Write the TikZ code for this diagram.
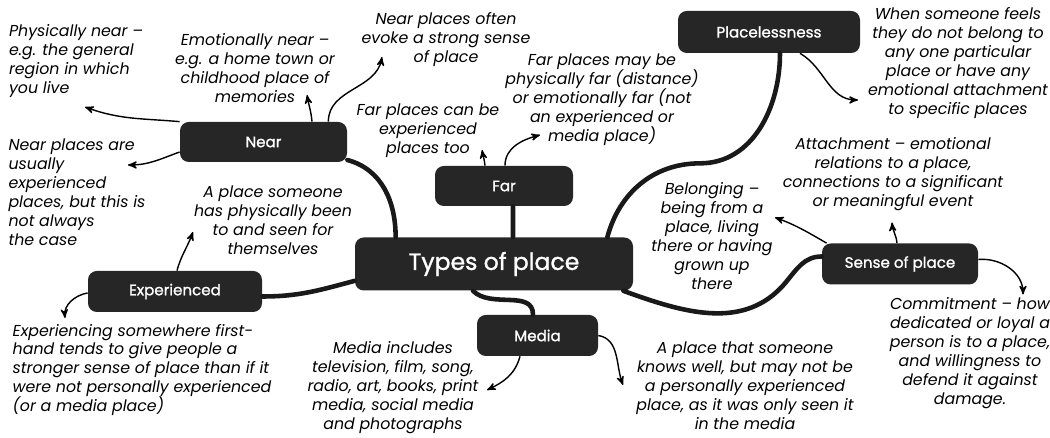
\documentclass[tikz,border=0pt]{standalone}
\usepackage{fontspec}
\setmainfont{Poppins}
\newfontfamily\boxfont{Poppins}[AutoFakeBold=1.2]
\usepackage{tikz}
\usetikzlibrary{positioning}
\usetikzlibrary{arrows}
\tikzset{node distance=2cm, % only used as a fallback, all nodes get their own distance
topic/.style={ % the dark boxes
fill=black!85,
text=white,
rounded corners=5pt,
inner sep=0pt,
font=\boxfont\bfseries\fontsize{8.6}{10}\selectfont},
note/.style={ % the italic comments round the boxes
align=center,
inner sep=1pt,
font=\fontsize{9}{10.8}\selectfont\itshape},
branch/.style={ % thick lines between the boxes
line width=2.6pt,
black!90,
line cap=round},
every edge/.style={ % the small pointers to the comments
draw,
->,>=stealth',
line width=0.8pt}}

\begin{document}
\begin{tikzpicture}
				\useasboundingbox (0,0) rectangle (21,8.76);

				\node[topic, minimum width=5.56cm, minimum height=1.06cm, font=\boxfont\bfseries\fontsize{13.4}{16}\selectfont] (main) at (9.88,3.48) {Types of place};
				\node[topic, minimum width=3.34cm, minimum height=0.8cm, on grid, above left=2.44cm and 4.61cm of main] (near) {Near};
				\node[topic, minimum width=2.76cm, minimum height=0.8cm, on grid, above right=1.56cm and 0.2cm of main] (far) {Far};
				\node[topic, minimum width=3.64cm, minimum height=0.84cm, on grid, above right=4.64cm and 5.5cm of main] (placeless) {Placelessness};
				\node[topic, minimum width=3.48cm, minimum height=0.82cm, on grid, below left=0.55cm and 6.38cm of main] (exp) {Experienced};
				\node[topic, minimum width=2.42cm, minimum height=0.82cm, on grid, below right=1.43cm and 0.87cm of main] (media) {Media};
				\node[topic, minimum width=3.12cm, minimum height=0.82cm, on grid, right=8.12cm of main] (sense) {Sense of place};

				\node[note, align=left, on grid, above left=1.62cm and 3.75cm of near] (physnear) {Physically near --\\e.g. the general\\region in which\\you live};
				\node[note, on grid, above left=1.48cm and 0.17cm of near] (emonear) {Emotionally near --\\e.g. a home town or\\childhood place of\\memories};
				\node[note, on grid, above right=2.04cm and 3.65cm of near] (nearoften) {Near places often\\evoke a strong sense\\of place};
				\node[note, align=left, on grid, below left=1.0cm and 3.73cm of near] (nearusual) {Near places are\\usually\\experienced\\places, but this is\\not always\\the case};
				\node[note, on grid, above left=1.10cm and 1.52cm of far] (farcan) {Far places can be\\experienced\\places too};
				\node[note, on grid, above right=1.72cm and 1.96cm of far] (farmay) {Far places may be\\physically far (distance)\\or emotionally far (not\\an experienced or\\media place)};
				\node[note, on grid, below right=0.62cm and 3.78cm of placeless] (placenote) {When someone feels\\they do not belong to\\any one particular\\place or have any\\emotional attachment\\to specific places};
				\node[note, on grid, above left=1.79cm and 0.14cm of sense] (attach) {Attachment -- emotional\\relations to a place,\\connections to a significant\\or meaningful event};
				\node[note, on grid, above left=0.55cm and 3.76cm of sense] (belong) {Belonging --\\being from a\\place, living\\there or having\\grown up\\there};
				\node[note, on grid, below right=1.79cm and 1.40cm of sense] (commit) {Commitment -- how\\dedicated or loyal a\\person is to a place,\\and willingness to\\defend it against\\damage.};
				\node[note, on grid, above right=1.43cm and 1.96cm of exp] (aplace) {A place someone\\has physically been\\to and seen for\\themselves};
				\node[note, align=left, on grid, below left=1.57cm and 0.66cm of exp] (experiencing) {Experiencing somewhere first-\\hand tends to give people a\\stronger sense of place than if it\\were not personally experienced\\(or a media place)};
				\node[note, on grid, below left=1.05cm and 2.89cm of media] (mediainc) {Media includes\\television, film, song,\\radio, art, books, print\\media, social media\\and photographs};
				\node[note, on grid, below right=1.01cm and 4.15cm of media] (knows) {A place that someone\\knows well, but may not be\\a personally experienced\\place, as it was only seen it\\in the media};

				% branches
				\draw[branch] ([yshift=-0.36cm]near.east) to[out=-15,in=90] ([xshift=0.82cm]main.north west);
				\draw[branch] ([xshift=0.18cm]far.south) -- ([xshift=0.38cm]main.north);
				\draw[branch] ([xshift=0.22cm]placeless.south) to[out=-90,in=0] ++(-1.6,-2.2) to[out=180,in=75] ([xshift=-0.52cm]main.north east);
				\draw[branch] ([yshift=-0.1cm]exp.east) to[out=0,in=195] ([yshift=0.2cm]main.south west);
				\draw[branch] ([xshift=-0.42cm]main.south) to[out=-45,in=90] ([xshift=-0.09cm]media.north);
				\draw[branch] ([xshift=-0.2cm]main.south east) to[out=-20,in=-130] ++(3.24,0.16) to[out=50,in=180] ([yshift=0.15cm]sense.west);

				% pointers
				\draw (near.north west) edge[out=175,in=-20] ([xshift=0.18cm,yshift=-0.92cm]physnear.center);
				\draw ([xshift=0.97cm]near.north) edge[out=95,in=-80] ([xshift=1.04cm,yshift=-0.54cm]emonear.center);
				\draw ([xshift=-0.38cm]near.north east) edge[out=90,in=-100] ([xshift=-1.28cm,yshift=-0.34cm]nearoften.center);
				\draw ([yshift=-0.2cm]near.west) edge[out=200,in=0] ([xshift=1.02cm,yshift=0.54cm]nearusual.center);
				\draw ([xshift=-0.38cm]far.north) edge[out=95,in=-80] ([xshift=1.08cm,yshift=-0.38cm]farcan.center);
				\draw ([xshift=0.02cm]far.north) edge[out=90,in=195] ([xshift=-1.24cm,yshift=-0.7cm]farmay.center);
				\draw ([xshift=0.62cm]placeless.south) edge[out=-30,in=180] ([xshift=-2.0cm,yshift=-0.74cm]placenote.center);
				\draw ([xshift=0.04cm]exp.north) edge[out=75,in=-110] ([xshift=-1.6cm,yshift=-0.24cm]aplace.center);
				\draw ([yshift=-0.03cm]exp.west) edge[out=190,in=95] ([xshift=-1.54cm,yshift=1.04cm]experiencing.center);
				\draw ([xshift=-0.35cm]media.south) edge[out=-105,in=25] ([xshift=1.88cm,yshift=-0.04cm]mediainc.center);
				\draw (media.east) edge[out=-10,in=110] ([xshift=-2.44cm,yshift=0.02cm]knows.center);
				\draw ([xshift=0.1cm]sense.north west) edge[out=150,in=-20] ([xshift=1.26cm,yshift=0.38cm]belong.center);
				\draw ([xshift=-0.06cm]sense.north) edge[out=95,in=-85] ([xshift=-0.02cm,yshift=-0.96cm]attach.center);
				\draw ([yshift=0.09cm]sense.east) edge[out=5,in=90] ([xshift=1.06cm,yshift=1.18cm]commit.center);
			\end{tikzpicture}
\end{document}
